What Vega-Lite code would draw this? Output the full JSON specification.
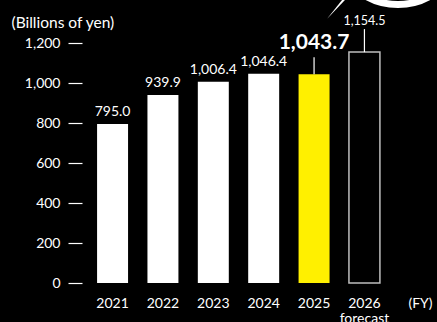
{
  "$schema": "https://vega.github.io/schema/vega-lite/v6.json",
  "width": 303,
  "height": 240,
  "autosize": {"type": "none"},
  "padding": {"left": 87, "top": 43, "right": 47, "bottom": 39},
  "background": "#000000",
  "config": {
    "view": {"stroke": null},
    "font": "Lato",
    "axis": {"labelFont": "Lato", "titleFont": "Lato", "labelColor": "#ffffff", "titleColor": "#ffffff", "grid": false, "domain": false}
  },
  "data": {"values": [
    {"year": "2021", "value": 795.0},
    {"year": "2022", "value": 939.9},
    {"year": "2023", "value": 1006.4},
    {"year": "2024", "value": 1046.4},
    {"year": "2025", "value": 1043.7},
    {"year": "2026", "value": 1154.5}
  ]},
  "encoding": {
    "x": {
      "field": "year", "type": "nominal", "sort": null,
      "scale": {"paddingInner": 0.385, "paddingOuter": 0.2},
      "axis": {
        "title": "(FY)", "titleX": 333, "titleY": 24, "titleAlign": "center", "titleBaseline": "alphabetic",
        "titleFontSize": 14, "titleFontWeight": "normal",
        "labelAngle": 0, "labelFontSize": 14, "labelPadding": 24, "labelBaseline": "alphabetic",
        "ticks": false, "tickSize": 0, "labelLineHeight": 15,
        "labelExpr": "datum.value == '2026' ? ['2026', 'forecast'] : datum.value"
      }
    },
    "y": {
      "field": "value", "type": "quantitative",
      "scale": {"domain": [0, 1200], "nice": false},
      "axis": {
        "values": [0, 200, 400, 600, 800, 1000, 1200], "format": ",d",
        "offset": 5, "tickSize": 14, "tickColor": "#ffffff", "tickWidth": 1.2,
        "labelPadding": 8, "labelFontSize": 14,
        "title": "(Billions of yen)", "titleAngle": 0, "titleAlign": "left", "titleBaseline": "alphabetic",
        "titleX": -71, "titleY": -16, "titleFontSize": 15.5, "titleFontWeight": "normal"
      }
    }
  },
  "layer": [
    {
      "transform": [{"filter": "datum.year != '2026'"}],
      "mark": {"type": "bar"},
      "encoding": {
        "color": {"condition": {"test": "datum.year == '2025'", "value": "#FFF000"}, "value": "#ffffff"}
      }
    },
    {
      "transform": [{"filter": "datum.year == '2026'"}],
      "mark": {"type": "bar", "fill": "#000000", "stroke": "#bdbdbd", "strokeWidth": 1.5}
    },
    {
      "transform": [{"filter": "datum.year < '2025'"}],
      "mark": {"type": "text", "dy": -8, "fontSize": 14, "color": "#ffffff", "baseline": "alphabetic", "align": "center"},
      "encoding": {"text": {"field": "value", "type": "quantitative", "format": ",.1f"}}
    },
    {
      "transform": [{"filter": "datum.year == '2025'"}],
      "mark": {"type": "text", "dy": -25, "fontSize": 21, "fontWeight": "bold", "color": "#ffffff", "baseline": "alphabetic", "align": "center"},
      "encoding": {"text": {"field": "value", "type": "quantitative", "format": ",.1f"}}
    },
    {
      "transform": [{"filter": "datum.year == '2026'"}],
      "mark": {"type": "text", "dy": -27, "fontSize": 12.5, "color": "#ffffff", "baseline": "alphabetic", "align": "center"},
      "encoding": {"text": {"field": "value", "type": "quantitative", "format": ",.1f"}}
    },
    {
      "transform": [{"filter": "datum.year == '2025'"}],
      "mark": {"type": "rule", "color": "#ffffff", "strokeWidth": 1.2, "y2Offset": -17},
      "encoding": {"y2": {"field": "value"}}
    },
    {
      "transform": [{"filter": "datum.year == '2026'"}],
      "mark": {"type": "rule", "color": "#ffffff", "strokeWidth": 1.2, "y2Offset": -23},
      "encoding": {"y2": {"field": "value"}}
    },
    {
      "transform": [{"filter": "datum.year == '2026'"}],
      "mark": {"type": "point", "shape": "circle", "filled": false, "color": "#ffffff", "strokeWidth": 7, "opacity": 1, "size": 16641, "xOffset": 33.5, "yOffset": -103},
      "encoding": {"y": {"datum": 1200}}
    },
    {
      "transform": [{"filter": "datum.year == '2026'"}],
      "mark": {"type": "point", "shape": "M-0.9,0.95L0.95,-1L0.65,-1Z", "filled": true, "color": "#ffffff", "opacity": 1, "size": 400, "xOffset": -28.5, "yOffset": -33.5},
      "encoding": {"y": {"datum": 1200}}
    }
  ]
}
